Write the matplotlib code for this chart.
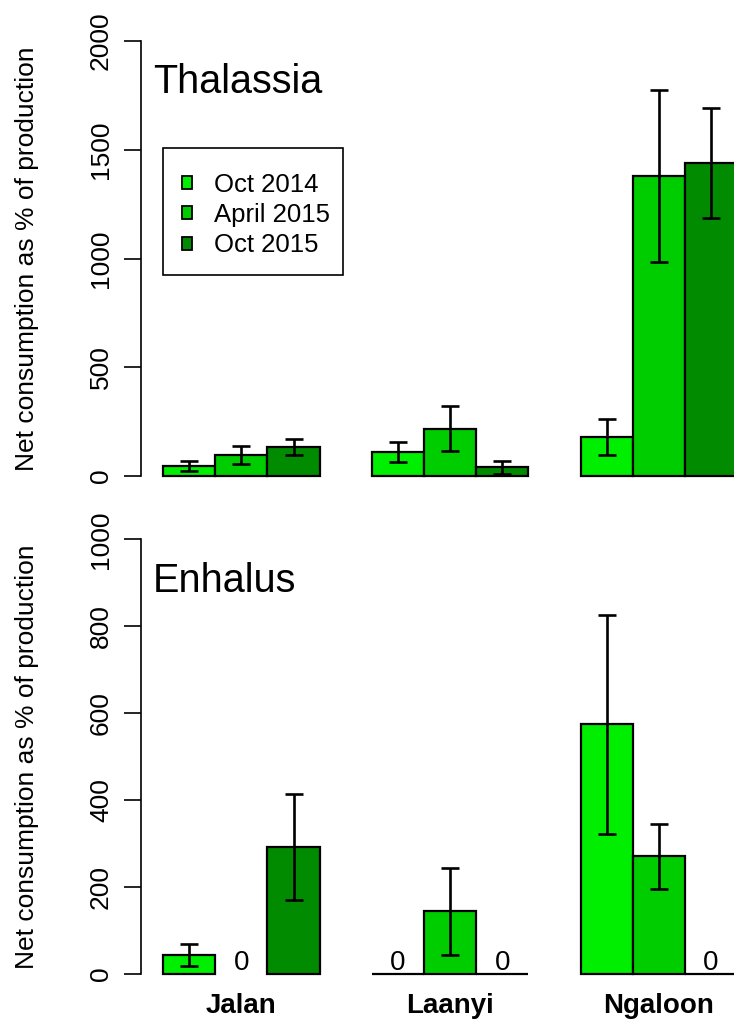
import numpy as np
import matplotlib
matplotlib.use("Agg")
import matplotlib.pyplot as plt
from matplotlib.patches import Patch, Rectangle

plt.rcParams['font.family'] = ['Liberation Sans', 'DejaVu Sans']

sites = ['Jalan', 'Laanyi', 'Ngaloon']
seasons = ['Oct 2014', 'April 2015', 'Oct 2015']
colors = ['#00EE00', '#00CD00', '#008B00']

# Thalassia: rows = season, cols = site
thal_mean = [[45, 110, 179],
             [98, 218, 1378],
             [133, 41, 1440]]
thal_err = [[23, 45, 82],
            [42, 102, 396],
            [38, 30, 253]]

# Enhalus (nan = no data, shown as "0")
enh_mean = [[44, 0, 574],
            [np.nan, 144, 271],
            [292, 0, 0]]
enh_err = [[26, 0, 251],
           [0, 100, 75],
           [122, 0, 0]]

W, H = 734, 1019
fig = plt.figure(figsize=(W / 100, H / 100), dpi=100)

def px_axes(left, top, right, bottom):
    return fig.add_axes([left / W, 1 - bottom / H, (right - left) / W, (bottom - top) / H])

ax1 = px_axes(141, 23.6, 734, 493.4)
ax2 = px_axes(141, 521.9, 734, 991.4)

xleft = 1 - 22 / 52.2
xright = 1 + (734 - 163) / 52.2

def draw(ax, means, errs, ymax, step, title, title_y, zero_labels):
    pad = 0.04 * ymax
    for s in range(3):
        for g in range(3):
            x = 1.5 + 4 * g + s
            m = means[s][g]
            if np.isnan(m):
                ax.text(x, 0.009 * ymax, '0', ha='center', va='baseline', fontsize=20)
                continue
            ax.bar(x, m, width=1, color=colors[s], edgecolor='black', linewidth=1.6,
                   clip_on=True)
            if errs[s][g] > 0:
                ax.errorbar(x, m, yerr=errs[s][g], fmt='none', ecolor='black',
                            elinewidth=1.9, capsize=6.2, capthick=1.9)
            if m == 0 and zero_labels:
                ax.text(x, 0.009 * ymax, '0', ha='center', va='baseline', fontsize=20)
    ax.set_xlim(xleft, xright)
    ax.set_ylim(-pad, ymax + pad)
    for sp in ['top', 'right', 'bottom']:
        ax.spines[sp].set_visible(False)
    ax.spines['left'].set_bounds(0, ymax)
    ax.spines['left'].set_linewidth(1.2)
    ax.set_yticks(np.arange(0, ymax + 1, step))
    ax.tick_params(axis='y', length=12.2, width=1.2, pad=8, labelsize=19)
    for lab in ax.get_yticklabels():
        lab.set_rotation(90)
        lab.set_va('center')
    ax.text(0.81, title_y, title, fontsize=28.5, ha='left', va='baseline')

draw(ax1, thal_mean, thal_err, 2000, 500, 'Thalassia', 1761, False)
draw(ax2, enh_mean, enh_err, 1000, 200, 'Enhalus', 879, True)

ax1.set_xticks([])
ax2.set_xticks([2.5, 6.5, 10.5])
ax2.set_xticklabels(sites, fontsize=20, fontweight='bold')
ax2.tick_params(axis='x', length=0, pad=1)

for ax in (ax1, ax2):
    bb = ax.get_position()
    fig.text(27 / W, bb.y0 + bb.height / 2, 'Net consumption as % of production',
             rotation=90, ha='center', va='center', fontsize=19)

# legend: frame drawn separately so the box matches the original
fig.patches.append(Rectangle((163 / W, 1 - 275 / H), 180 / W, 127 / H,
                             transform=fig.transFigure, facecolor='white',
                             edgecolor='black', linewidth=1.2, zorder=4))
handles = [Patch(facecolor=c, edgecolor='black', linewidth=1.3) for c in colors]
leg = fig.legend(handles, seasons, loc='upper left',
                 bbox_to_anchor=(182 / W, 1 - 172.5 / H), borderaxespad=0,
                 fontsize=18.5, frameon=False,
                 handlelength=0.4, handleheight=0.4, handletextpad=0.85,
                 labelspacing=0.25, borderpad=0)
leg.set_zorder(5)

fig.savefig('out.png', dpi=100)
